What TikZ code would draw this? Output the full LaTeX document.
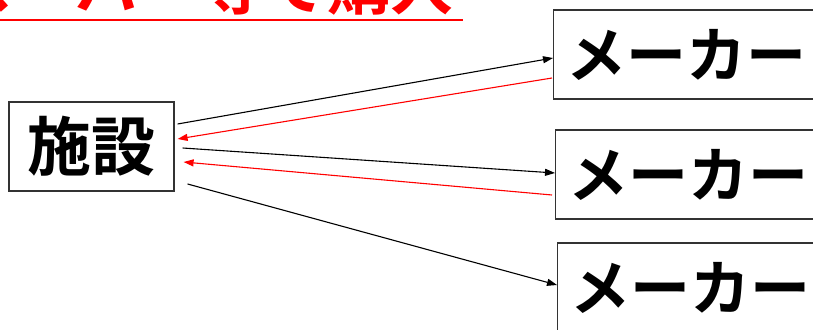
\documentclass[tikz,border=0pt]{standalone}
\usepackage{fontspec}
\newfontfamily\jpfont{Noto Sans CJK JP}[BoldFont={Noto Sans CJK JP Bold}]
\usetikzlibrary{arrows.meta}
\definecolor{edge}{HTML}{333333}
\tikzset{
  box/.style={draw=edge, line width=1.2pt, inner sep=0pt},
  facbox/.style={box, minimum width=165pt, minimum height=89pt, font=\jpfont\bfseries\fontsize{64}{64}\selectfont},
  makerbox/.style={box, minimum width=266pt, minimum height=89pt, font=\jpfont\bfseries\fontsize{60}{60}\selectfont},
  order/.style={draw=black, line width=1.1pt, -{Triangle[length=10pt,width=7pt]}},
  reply/.style={draw=red, line width=1.1pt, -{Triangle[length=10pt,width=7pt]}}
}
\begin{document}
\begin{tikzpicture}[x=1pt, y=-1pt]
  \useasboundingbox (0,0) rectangle (813,329);
  \begin{scope}
    \clip (0,0) rectangle (813,329);
    % heading, only its lower edge is inside the frame
    \node[anchor=base west, inner sep=0pt, text=red,
          font=\jpfont\bfseries\fontsize{63}{63}\selectfont] (title) at (-50,10) {スーパー等で購入};
    \draw[red, line width=2.2pt] (0,20) -- (463,20);
    % facility and makers
    \node[facbox] (fac) at (91.5,146.5) {施設};
    \node[makerbox, anchor=west] (m1) at (553,54.5) {メーカー};
    \node[makerbox, anchor=west] (m2) at (555,174.5) {メーカー};
    \node[makerbox, anchor=west] (m3) at (557,287.5) {メーカー};
    % orders and returns
    \draw[order] ([shift={(3,-22.5)}]fac.east) -- ([shift={(0,3.5)}]m1.west);
    \draw[reply] ([shift={(-1,23.5)}]m1.west) -- ([shift={(3,-7.5)}]fac.east);
    \draw[order] ([shift={(8,1.5)}]fac.east) -- ([shift={(0,-1.5)}]m2.west);
    \draw[reply] ([shift={(-3,20.5)}]m2.west) -- ([shift={(9,15.5)}]fac.east);
    \draw[order] ([shift={(13,37.5)}]fac.east) -- ([shift={(0,-2.5)}]m3.west);
  \end{scope}
\end{tikzpicture}
\end{document}
